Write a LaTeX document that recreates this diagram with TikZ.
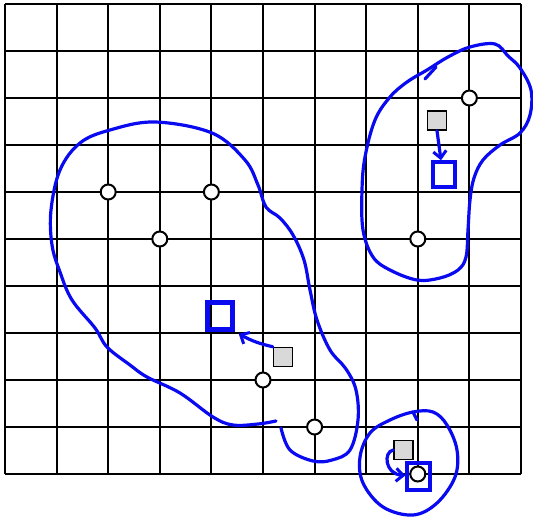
\documentclass[tikz,border=0pt]{standalone}
\usetikzlibrary{arrows.meta}
\definecolor{pen}{RGB}{10,10,240}
\definecolor{cellgray}{RGB}{217,217,217}
\begin{document}
\begin{tikzpicture}[x=1pt,y=-1pt,
 gridline/.style={line width=2pt, black},
 station/.style={circle, draw=black, fill=white, line width=2pt, minimum size=15pt, inner sep=0pt},
 cell/.style={rectangle, draw=black, fill=cellgray, line width=1.5pt, minimum size=19pt, inner sep=0pt},
 handbox/.style={rectangle, draw=pen, line width=3.4pt, inner sep=0pt},
 penline/.style={draw=pen, line width=3.2pt, line cap=round, line join=round},
 penarrow/.style={penline, -{Straight Barb[length=7pt,width=13pt,line width=3pt]}},
]
\useasboundingbox (0,0) rectangle (533,517);
\foreach \i in {0,...,10} {
  \draw[gridline] ({5+51.6*\i},4) -- ({5+51.6*\i},474);
  \draw[gridline] (5,{4+47*\i}) -- (521,{4+47*\i});
}
% hand-drawn regions
\draw[penline] plot[smooth, tension=0.6] coordinates {
 (281,428) (290,450) (313,461) (332,460) (350,450) (358,420) (356,390) (346,369)
 (330,350) (317,320) (310,290) (304,260) (293,235) (280,218) (266,207) (258,185)
 (245,160) (212,133) (155,122) (110,130) (80,143) (60,170) (51,210) (52,245)
 (60,272) (72,300) (95,328) (107,347) (130,365) (147,377) (180,393) (213,417)
 (233,425) (258,424) (276,421)};
\draw[penline] plot[smooth cycle, tension=0.6] coordinates {
 (470,47) (495,44) (508,56) (520,68) (531,90) (530,115)
 (520,133) (500,145) (483,160) (474,178) (470,200) (468,230) (466,257) (458,270)
 (440,278) (417,280) (390,270) (373,257) (363,230) (362,190) (365,157) (375,120)
 (390,97) (407,82) (427,70) (448,57)};
\draw[penline] (436,67) -- (425,79);
\draw[penline] plot[smooth cycle, tension=0.6] coordinates {
 (433,412) (447,425) (457,450) (455,477) (437,503) (413,515)
 (383,507) (363,483) (360,457) (370,433) (390,420) (413,412)};
\draw[penline] (413,412) -- (417,420);
% gray cells
\node[cell] (g1) at (437,120.5) {};
\node[cell] (g2) at (283,357) {};
\node[cell] (g3) at (403.5,450) {};
% stations
\node[station] (c1) at (108.2,192) {};
\node[station] (c2) at (211.4,192) {};
\node[station] (c3) at (159.8,239) {};
\node[station] (c4) at (469.4,98) {};
\node[station] (c5) at (417.8,239) {};
\node[station] (c6) at (263,380) {};
\node[station] (c7) at (314.6,427) {};
\node[station] (c8) at (417.8,474) {};
% hand-drawn target boxes
\node[handbox, minimum width=22pt, minimum height=25pt] (b1) at (444,174.5) {};
\node[handbox, line width=4.5pt, minimum width=25pt, minimum height=27pt] (b2) at (220,316) {};
\node[handbox, minimum width=23pt, minimum height=27pt] (b3) at (418.5,476.5) {};
% arrows
\draw[penarrow] (g1.south) -- ([xshift=-3pt]b1.north);
\draw[penarrow] (g2.north west) to[bend left=8] ([xshift=4pt,yshift=-2pt]b2.south east);
\draw[penarrow] (g3.west) .. controls (383,452) and (385,474) .. ([yshift=1pt]b3.west);
\end{tikzpicture}
\end{document}
